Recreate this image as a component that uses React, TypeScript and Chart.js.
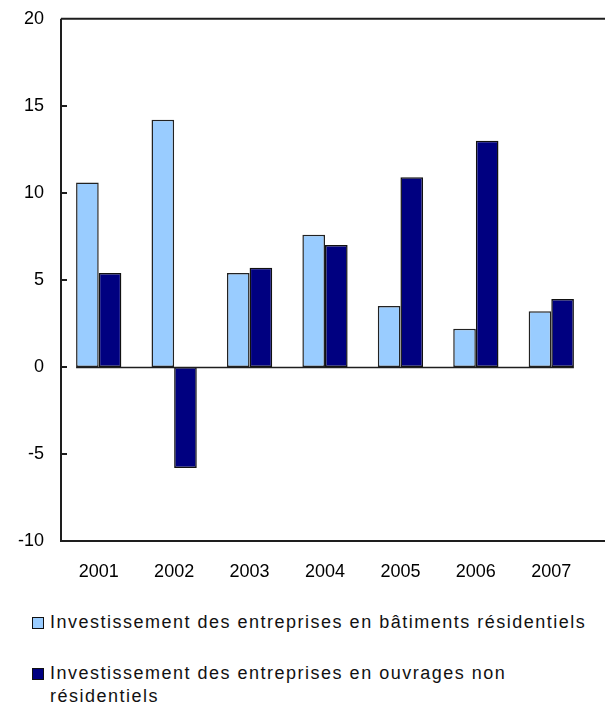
import React, { useEffect, useRef } from "react";
import { Chart, registerables } from "chart.js";

Chart.register(...registerables);

const categories = ["2001", "2002", "2003", "2004", "2005", "2006", "2007"];
const residentialLabel = "Investissement des entreprises en bâtiments résidentiels";
const nonResidentialLabel = "Investissement des entreprises en ouvrages non résidentiels";
const residential = [10.6, 14.2, 5.4, 7.6, 3.5, 2.2, 3.2];
const nonResidential = [5.4, -5.8, 5.7, 7.0, 10.9, 13.0, 3.9];
const yTicks = [-10, -5, 0, 5, 10, 15, 20];

const LIGHT = "#99CCFF";
const DARK = "#000080";
const FONT = "'Liberation Sans', Arial, sans-serif";

const framePlugin = {
  id: "frame",
  afterDatasetsDraw(chart: any) {
    const { ctx, chartArea, scales } = chart;
    const { left, top, bottom } = chartArea;
    const W = chart.width;
    const y = scales.y;
    ctx.save();
    ctx.strokeStyle = "#1e1e1e";
    ctx.lineWidth = 2;
    ctx.beginPath();
    ctx.moveTo(left, top);
    ctx.lineTo(W, top);
    ctx.moveTo(left, top);
    ctx.lineTo(left, bottom);
    ctx.lineTo(W, bottom);
    ctx.stroke();
    yTicks.forEach((v) => {
      if (v === 20 || v === -10) return;
      const py = Math.round(y.getPixelForValue(v));
      ctx.beginPath();
      ctx.moveTo(left, py);
      ctx.lineTo(left + 6, py);
      ctx.stroke();
    });
    const m0 = chart.getDatasetMeta(0).data;
    const m1 = chart.getDatasetMeta(1).data;
    if (m0.length && m1.length) {
      const first = m0[0];
      const last = m1[m1.length - 1];
      const x1 = first.x - first.width / 2;
      const x2 = last.x + last.width / 2;
      const zy = Math.round(y.getPixelForValue(0)) + 0.5;
      ctx.lineWidth = 1.5;
      ctx.beginPath();
      ctx.moveTo(x1, zy);
      ctx.lineTo(x2, zy);
      ctx.stroke();
    }
    ctx.restore();
  },
};

function BarChart() {
  const ref = useRef<HTMLCanvasElement | null>(null);
  useEffect(() => {
    if (!ref.current) return;
    const chart = new Chart(ref.current, {
      type: "bar",
      data: {
        labels: categories,
        datasets: [
          {
            label: residentialLabel,
            data: residential,
            backgroundColor: LIGHT,
            borderColor: "#222",
            borderWidth: 1.5,
            borderSkipped: false,
          },
          {
            label: nonResidentialLabel,
            data: nonResidential,
            backgroundColor: DARK,
            borderColor: "#111",
            borderWidth: 1.5,
            borderSkipped: false,
          },
        ],
      },
      options: {
        responsive: false,
        animation: false,
        maintainAspectRatio: false,
        layout: { padding: { top: 9, right: 16, left: 0, bottom: 0 } },
        datasets: { bar: { categoryPercentage: 0.6, barPercentage: 1.0 } },
        plugins: { legend: { display: false }, tooltip: { enabled: false } },
        scales: {
          x: {
            grid: { display: false, drawTicks: false },
            border: { display: false },
            ticks: { color: "#000", font: { family: FONT, size: 18 }, padding: 20 },
            afterFit: (s: any) => {
              s.height = 50;
            },
          },
          y: {
            min: -10,
            max: 20,
            grid: { display: false, drawTicks: false },
            border: { display: false },
            afterBuildTicks: (s: any) => {
              s.ticks = yTicks.map((v) => ({ value: v }));
            },
            ticks: { color: "#000", font: { family: FONT, size: 18 }, padding: 17 },
            afterFit: (s: any) => {
              s.width = 61;
            },
          },
        },
      },
      plugins: [framePlugin],
    });
    return () => chart.destroy();
  }, []);
  return <canvas ref={ref} width={605} height={600} style={{ position: "absolute", left: 0, top: -9 }} />;
}

function LegendItem({ color, text, top }: { color: string; text: React.ReactNode; top: number }) {
  return (
    <div style={{ position: "absolute", left: 0, top, width: 605 }}>
      <div
        style={{
          position: "absolute",
          left: 32,
          top: 6,
          width: 10,
          height: 10,
          background: color,
          border: "1px solid #111",
        }}
      />
      <div
        style={{
          position: "absolute",
          left: 50,
          top: 0,
          fontFamily: FONT,
          fontSize: 18,
          letterSpacing: "1.5px",
          lineHeight: "23px",
          color: "#111",
          whiteSpace: "nowrap",
        }}
      >
        {text}
      </div>
    </div>
  );
}

export default function App() {
  return (
    <div style={{ position: "absolute", left: 0, top: 0, width: 605, height: 717, background: "#fff", overflow: "hidden" }}>
      <BarChart />
      <LegendItem color={LIGHT} text={residentialLabel} top={611} />
      <LegendItem
        color={DARK}
        text={
          <>
            Investissement des entreprises en ouvrages non
            <br />
            résidentiels
          </>
        }
        top={662}
      />
    </div>
  );
}
